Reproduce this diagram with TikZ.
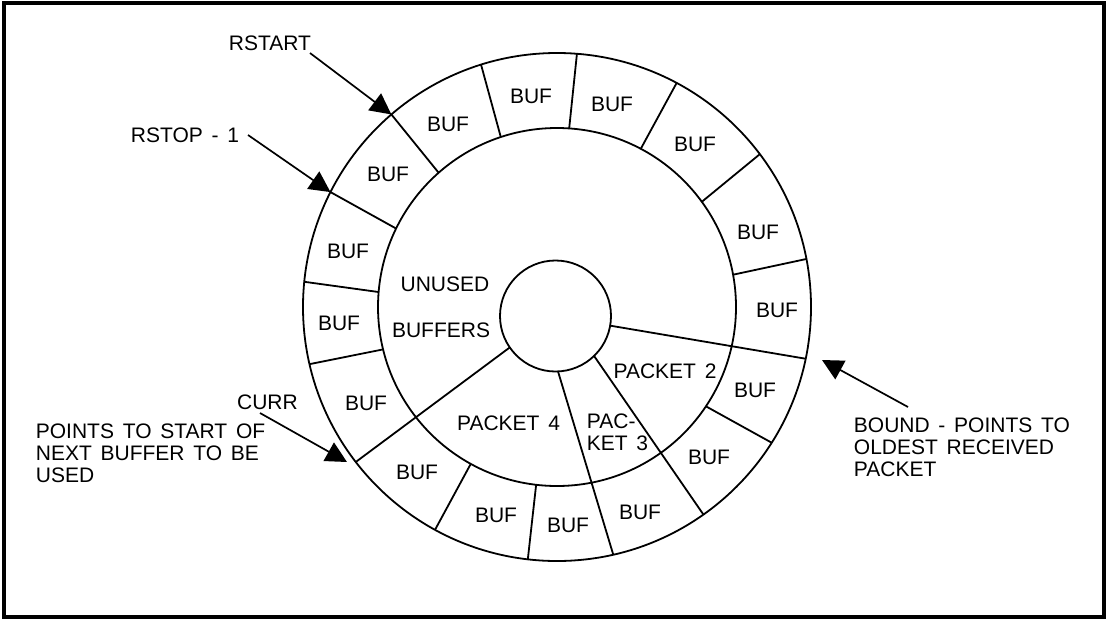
\documentclass[tikz,border=0pt]{standalone}
\usepackage{fontspec}
\setmainfont{Liberation Sans}[WordSpace=1.5]
\usetikzlibrary{arrows.meta,calc}
\begin{document}
\begin{tikzpicture}[x=1pt,y=-1pt,line width=1.8pt,
  lbl/.style={inner sep=0pt,font=\fontsize{21}{22}\selectfont},
  blk/.style={lbl,anchor=north west,align=left},
  ptr/.style={-{Triangle[length=21pt,width=21pt]},line width=1.7pt}]
\useasboundingbox (0,0) rectangle (1107,619);
\draw[line width=4pt] (4,3) rectangle (1104,617);
% ring geometry
\coordinate (c) at (557,307);
\coordinate (h) at (555.5,316);
\draw (c) circle[radius=254];
\draw (c) circle[radius=179];
\draw (h) circle[radius=55.5];
% buffer dividers (inner angle / outer angle)
\foreach \i/\o in {-131.4/-130.7,-154/-153.1,-175.2/-174.3,166.3/167,118.8/118.7,96.7/96.6,33.7/32.3,-10.4/-10.9,-36/-37,-62.1/-61.9,-86.1/-85.5,-108.3/-107.4}
  \draw ($(c)+(\i:179)$) -- ($(c)+(\o:254)$);
% packet boundaries from the hub
\foreach \hh/\o in {145.5/142.4,10/11.75,46/54.8,87.4/77.2}
  \draw ($(h)+(\hh:55.5)$) -- ($(c)+(\o:254)$);
% buffer labels
\foreach \n/\x/\y in {1/448/124,2/388/174,3/348/251,4/339/323,5/366/403,6/417/472,7/496/515,8/568/525,9/640/512,10/709/457,11/755/390,12/777/310,13/758/232,14/695/144,15/612/104,16/531/96}
  \node[lbl] (buf\n) at (\x,\y) {BUF};
% interior labels
\node[lbl] (unused) at (445,284.5) {UNUSED};
\node[lbl] (buffers) at (441,330) {BUFFERS};
\node[lbl] (pk4) at (508.5,423.5) {PACKET 4};
\node[lbl] (pk2) at (665,371.5) {PACKET 2};
\node[blk] (pk3) at (586,413) {PAC-\\KET 3};
% pointer labels
\node[lbl] (rstart) at (270,43.5) {RSTART};
\node[lbl,anchor=east] (rstop) at (240,135) {RSTOP - 1};
\node[lbl] (curr) at (267.5,402.5) {CURR};
\node[blk] (points) at (35,423) {POINTS TO START OF\\NEXT BUFFER TO BE\\USED};
\node[blk] (bound) at (853,417) {BOUND - POINTS TO\\OLDEST RECEIVED\\PACKET};
% pointer arrows
\coordinate (rstartT) at (310,53);
\coordinate (rstartH) at ($(c)+(-130.7:254)$);
\coordinate (rstopT) at (248,135);
\coordinate (rstopH) at ($(c)+(-153.1:254)$);
\coordinate (currT) at (260,413);
\coordinate (currH) at (347,462);
\coordinate (boundT) at (908,407);
\coordinate (boundH) at (822,360);
\draw[ptr] (rstartT) -- (rstartH);
\draw[ptr] (rstopT) -- (rstopH);
\draw[ptr] (currT) -- (currH);
\draw[ptr] (boundT) -- (boundH);
\end{tikzpicture}
\end{document}
